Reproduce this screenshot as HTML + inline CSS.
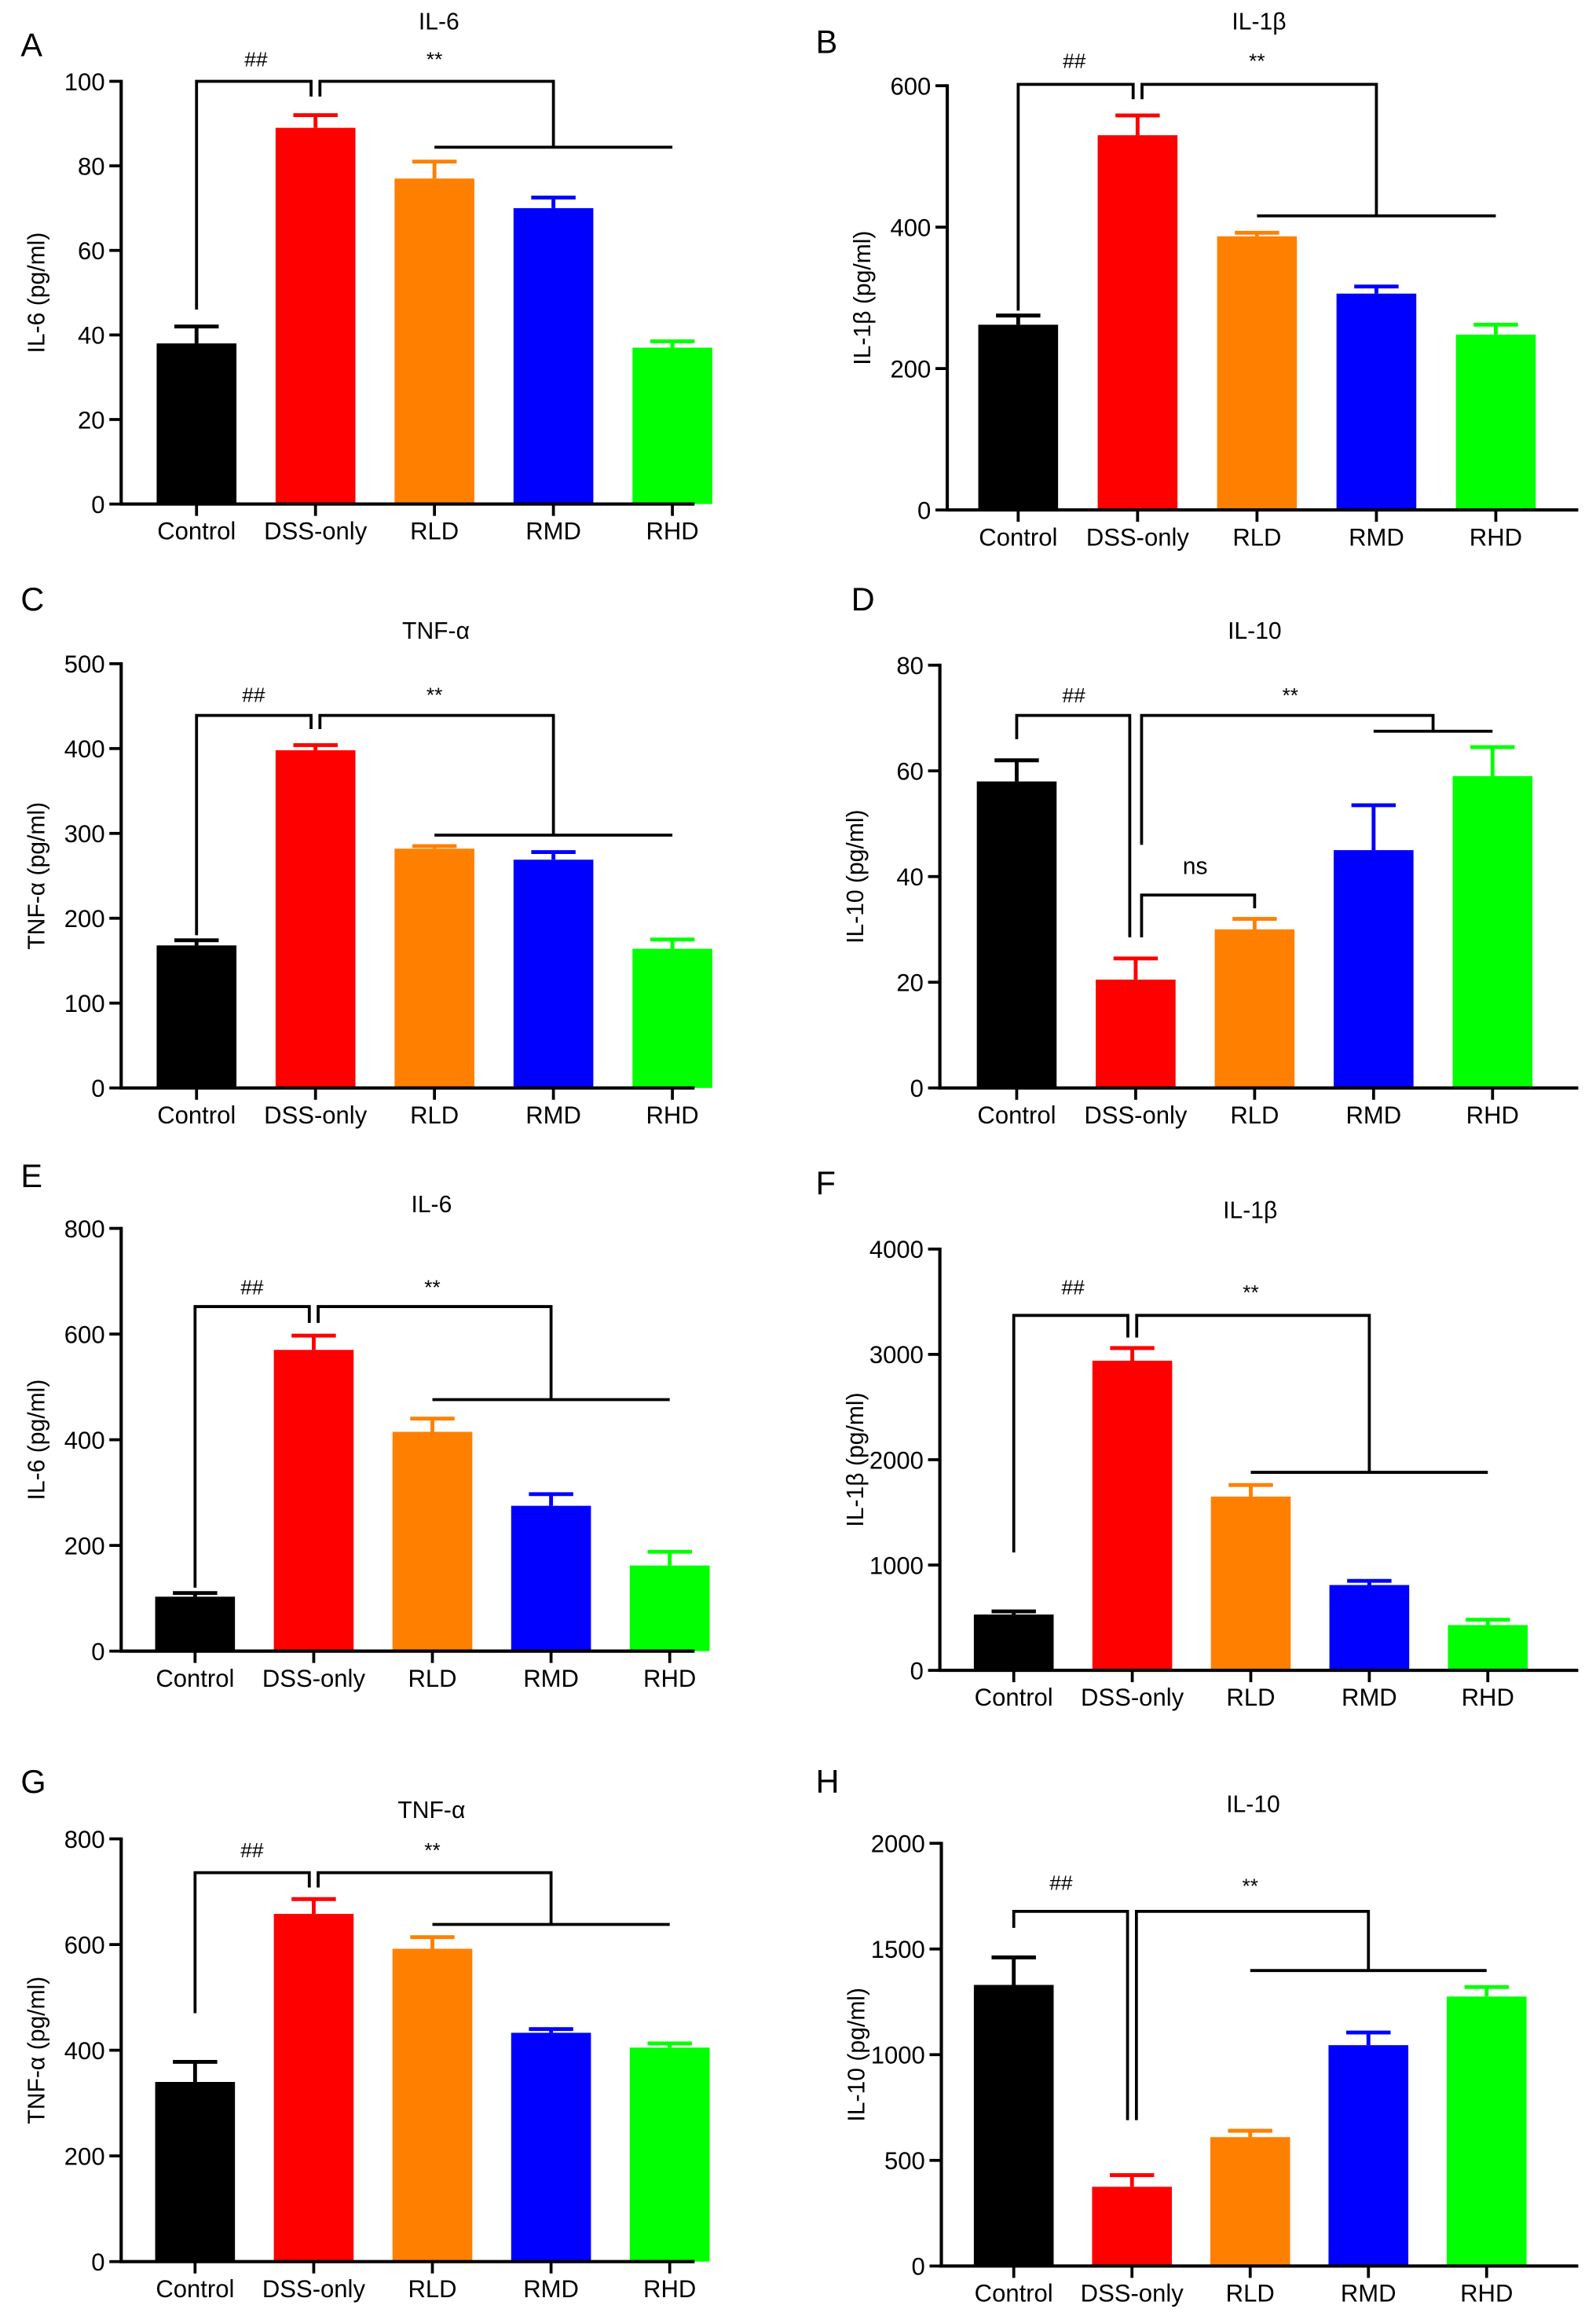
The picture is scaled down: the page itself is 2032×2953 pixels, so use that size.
<!DOCTYPE html>
<html><head><meta charset="utf-8"><style>
html,body{margin:0;padding:0;background:#fff;}
svg{display:block;}
text{font-family:"Liberation Sans",Arial,sans-serif;fill:#000;}
</style></head><body>
<svg id="fig" width="2032" height="2953" viewBox="0 0 1080 1569.5" preserveAspectRatio="none" xmlns="http://www.w3.org/2000/svg"></svg>
<script>
const categories = ["Control","DSS-only","RLD","RMD","RHD"];
const colors = ["#000000","#ff0000","#ff8000","#0000ff","#00ff00"];

const titles = ["IL-6","IL-1β","TNF-α","IL-10","IL-6","IL-1β","TNF-α","IL-10"];
const yTitles = ["IL-6 (pg/ml)","IL-1β (pg/ml)","TNF-α (pg/ml)","IL-10 (pg/ml)","IL-6 (pg/ml)","IL-1β (pg/ml)","TNF-α (pg/ml)","IL-10 (pg/ml)"];
const letters = ["A","B","C","D","E","F","G","H"];

const valuesA = [38,89,77,70,37];      const errA = [42,92,81,72.5,38.5];
const valuesB = [262,530,387,306,248]; const errB = [275,558,392,316,262];
const valuesC = [168,398,282,269,164]; const errC = [174,404,285,278,175];
const valuesD = [58,20.5,30,45,59];    const errD = [62,24.5,32,53.5,64.5];
const valuesE = [103,570,415,275,162]; const errE = [110,597,440,297,188];
const valuesF = [530,2940,1650,810,430]; const errF = [560,3060,1760,850,480];
const valuesG = [340,658,592,433,405]; const errG = [378,686,614,440,413];
const valuesH = [1330,375,610,1045,1275]; const errH = [1460,430,640,1105,1320];

const ticksA = [0,20,40,60,80,100];
const ticksB = [0,200,400,600];
const ticksC = [0,100,200,300,400,500];
const ticksD = [0,20,40,60,80];
const ticksE = [0,200,400,600,800];
const ticksF = [0,1000,2000,3000,4000];
const ticksG = [0,200,400,600,800];
const ticksH = [0,500,1000,1500,2000];

const allValues = [valuesA,valuesB,valuesC,valuesD,valuesE,valuesF,valuesG,valuesH];
const allErr = [errA,errB,errC,errD,errE,errF,errG,errH];
const allTicks = [ticksA,ticksB,ticksC,ticksD,ticksE,ticksF,ticksG,ticksH];

const layouts = [
 {ax:82, yTop:55, y0:341, x0:133, dx:80.5, xEnd:470, tx:297, ty:20, lx:14, ly:38},
 {ax:641,yTop:58, y0:345, x0:689, dx:80.8, xEnd:1068,tx:852, ty:20, lx:552,ly:36},
 {ax:82, yTop:449,y0:736, x0:133, dx:80.5, xEnd:470, tx:295, ty:432,lx:14, ly:413},
 {ax:636,yTop:450,y0:736, x0:688, dx:80.5, xEnd:1068,tx:849, ty:432,lx:576,ly:413},
 {ax:82, yTop:831,y0:1117,x0:132, dx:80.3, xEnd:470, tx:292, ty:820,lx:14, ly:803},
 {ax:636,yTop:845,y0:1130,x0:686, dx:80.2, xEnd:1068,tx:846, ty:824,lx:552,ly:808},
 {ax:82, yTop:1244,y0:1530,x0:132,dx:80.3, xEnd:470, tx:292, ty:1230,lx:14, ly:1213},
 {ax:637,yTop:1247,y0:1533,x0:686,dx:80,   xEnd:1068,tx:848, ty:1226,lx:552,ly:1213}
];

const brackets = [
 [[[0,0,46],[0,0,100],[1,-3,100],[1,-3,96.4]], [[1,3,96.4],[1,3,100],[3,0,100],[3,0,84.4]], [[2,0,84.4],[4,0,84.4]]],
 [[[0,0,282],[0,0,602],[1,-3,602],[1,-3,581]], [[1,3,581],[1,3,602],[3,0,602],[3,0,416]], [[2,0,416],[4,0,416]]],
 [[[0,0,180],[0,0,439],[1,-3,439],[1,-3,423]], [[1,3,423],[1,3,439],[3,0,439],[3,0,298]], [[2,0,298],[4,0,298]]],
 [[[0,0,66],[0,0,70.5],[1,-4,70.5],[1,-4,28.5]], [[1,4,46],[1,4,70.5],[3.5,0,70.5],[3.5,0,67.5]], [[3,0,67.5],[4,0,67.5]], [[1,4,28.5],[1,4,36.5],[2,0,36.5],[2,0,34]]],
 [[[0,0,120],[0,0,652],[1,-3,652],[1,-3,621]], [[1,3,621],[1,3,652],[3,0,652],[3,0,476]], [[2,0,476],[4,0,476]]],
 [[[0,0,1120],[0,0,3370],[1,-3,3370],[1,-3,3160]], [[1,3,3160],[1,3,3370],[3,0,3370],[3,0,1880]], [[2,0,1880],[4,0,1880]]],
 [[[0,0,470],[0,0,736],[1,-3,736],[1,-3,708]], [[1,3,708],[1,3,736],[3,0,736],[3,0,638]], [[2,0,638],[4,0,638]]],
 [[[0,0,1600],[0,0,1678],[1,-3,1678],[1,-3,690]], [[1,3,690],[1,3,1678],[3,0,1678],[3,0,1398]], [[2,0,1398],[4,0,1398]]]
];
const sigLabels = [
 [["##",0.5,103.5],["**",2,103.5]],
 [["##",0.47,625],["**",2,625]],
 [["##",0.48,455],["**",2,455]],
 [["##",0.48,73],["**",2.3,73],["ns",1.5,40.5]],
 [["##",0.48,675],["**",2,675]],
 [["##",0.5,3570],["**",2,3520]],
 [["##",0.48,765],["**",2,765]],
 [["##",0.4,1780],["**",2,1765]]
];

const svg = document.getElementById('fig');
const NS = "http://www.w3.org/2000/svg";
function mk(tag, attrs, parent){
  const e = document.createElementNS(NS, tag);
  for (const k in attrs) e.setAttribute(k, attrs[k]);
  (parent||svg).appendChild(e);
  return e;
}

for (let p = 0; p < 8; p++) {
  const L = layouts[p], vals = allValues[p], errs = allErr[p], ticks = allTicks[p];
  const yMax = ticks[ticks.length-1];
  const g = mk('g', {});
  
  
  const yS = v => L.y0 - (v / yMax) * (L.y0 - L.yTop);
  const xS = (i, off) => L.x0 + i * L.dx + (off||0);

  const lt = mk('text', {x:L.lx, y:L.ly, 'font-size':22}, g); lt.textContent = letters[p];
  
  
  const tt = mk('text', {x:L.tx, y:L.ty, 'font-size':16, 'text-anchor':'middle'}, g); tt.textContent = titles[p];
  
  
  const ymid = (L.y0 + L.yTop) / 2;
  const yt = mk('text', {x:L.ax-52, y:ymid, 'font-size':16, 'text-anchor':'middle', transform:`rotate(-90 ${L.ax-52} ${ymid})`}, g);
  yt.textContent = yTitles[p];
  
  

  for (let i = 0; i < vals.length; i++) {
    const cx = xS(i);
    const r = mk('rect', {x:cx-27, y:yS(vals[i]), width:54, height:L.y0-yS(vals[i]), fill:colors[i]}, g);
    
    
    const eb = mk('path', {d:`M${cx} ${yS(vals[i])} V${yS(errs[i])} M${cx-15} ${yS(errs[i])} H${cx+15}`, stroke:colors[i], 'stroke-width':2.6, fill:'none'}, g);
    
    
    const tk = mk('line', {x1:cx, x2:cx, y1:L.y0, y2:L.y0+8, stroke:'#000', 'stroke-width':2}, g);
    
    
    const cl = mk('text', {x:cx, y:L.y0+24, 'font-size':16.5, 'text-anchor':'middle'}, g);
    cl.textContent = categories[i];
    
    
  }
  const axis = mk('path', {d:`M${L.ax} ${L.yTop-1} V${L.y0} H${L.xEnd}`, stroke:'#000', 'stroke-width':2.2, fill:'none'}, g);
  
  
  for (const t of ticks) {
    const y = yS(t);
    const tl = mk('line', {x1:L.ax-8, x2:L.ax, y1:y, y2:y, stroke:'#000', 'stroke-width':2}, g);
    
    
    const tx = mk('text', {x:L.ax-11, y:y+6, 'font-size':16.5, 'text-anchor':'end'}, g);
    tx.textContent = t;
    
    
  }
  for (const b of brackets[p]) {
    const d = b.map((pt, k) => (k ? 'L' : 'M') + xS(pt[0], pt[1]) + ' ' + yS(pt[2])).join(' ');
    const br = mk('path', {d:d, stroke:'#000', 'stroke-width':2, fill:'none'}, g);
    
    
  }
  for (const s of sigLabels[p]) {
    const st = mk('text', {x:xS(s[1]), y:yS(s[2]), 'font-size':s[0]==='ns'?16:14, 'text-anchor':'middle'}, g);
    st.textContent = s[0];
    
    
  }
}
</script>
</body></html>
